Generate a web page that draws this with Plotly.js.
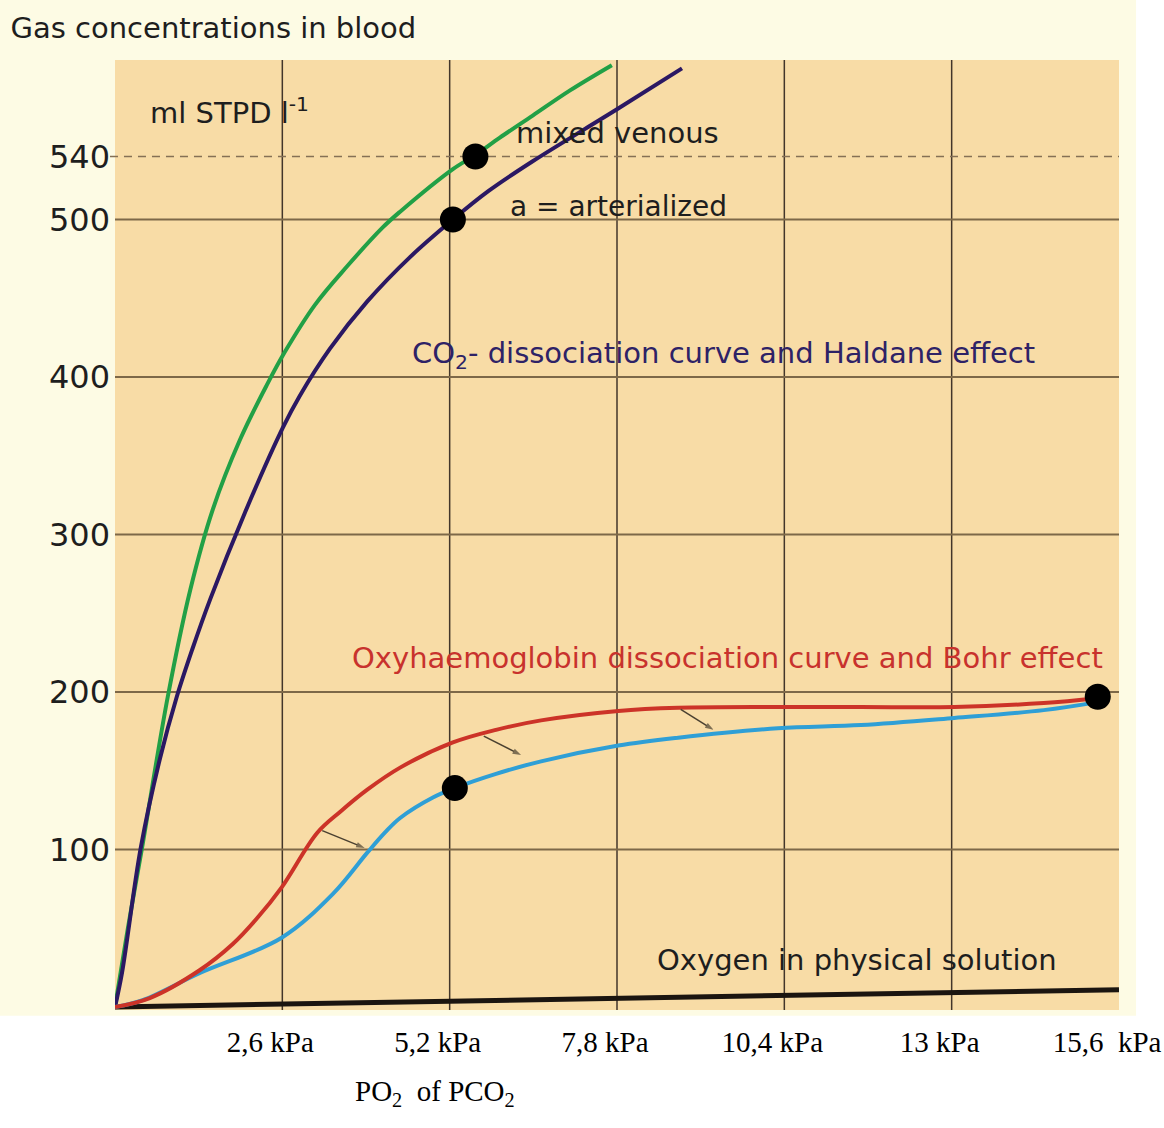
<!DOCTYPE html>
<html><head><meta charset="utf-8">
<script src="https://cdn.plot.ly/plotly-3.0.1.min.js"></script>
<style>html,body{margin:0;padding:0;background:#fff}</style>
</head><body>
<div id="chart" style="width:1164px;height:1128px"></div>
<script>
// ---- tick / grid values ----
const xTickVals = [2.6, 5.2, 7.8, 10.4, 13, 15.6];
const xTickText = ['2,6 kPa', '5,2 kPa', '7,8 kPa', '10,4 kPa', '13 kPa', '15,6  kPa'];
const xGridVals = [2.6, 5.2, 7.8, 10.4, 13];
const yTickVals = [100, 200, 300, 400, 500, 540];
const yGridVals = [100, 200, 300, 400, 500];
const mixedVenousLevel = 540;

// ---- CO2 dissociation, mixed venous (green) ----
const co2VenousX = [0, 0.2, 0.42, 0.82, 1.17, 1.52, 1.94, 2.36, 2.64, 3.11, 3.6, 4.16, 4.43, 5.25, 5.6, 5.98, 6.49, 7.07, 7.72];
const co2VenousY = [0, 50, 101, 197, 265, 316, 360, 395, 416, 446, 470, 495, 505, 532, 541, 552, 566, 582, 598];

// ---- CO2 dissociation, arterialized (purple) ----
const co2ArterialX = [0, 0.11, 0.4, 0.7, 0.96, 1.2, 1.48, 2.02, 2.61, 2.87, 3.34, 3.92, 4.58, 5.25, 5.8, 6.49, 7.8, 8.81];
const co2ArterialY = [0, 22, 101, 158, 197, 227, 259, 314, 368, 388, 418, 448, 476, 500, 518, 537, 570, 596];

// ---- Oxyhaemoglobin dissociation (red) ----
const hbO2X = [0, 0.54, 1.32, 1.83, 2.2, 2.59, 3.14, 3.5, 3.92, 4.43, 5.25, 5.92, 6.62, 7.82, 8.75, 10.3, 11.59, 13.04, 14.43, 15.27];
const hbO2Y = [0, 5.7, 23.5, 40, 56, 76, 110.5, 124, 138, 152, 168, 176, 182, 188, 190, 190.5, 190.5, 190.5, 193, 196];

// ---- Oxyhaemoglobin with Bohr shift (blue) ----
const hbBohrX = [0, 0.43, 1.32, 2.59, 3.39, 3.92, 4.2, 4.43, 4.94, 5.28, 5.92, 6.62, 7.82, 8.75, 10.3, 11.59, 13.04, 14.43, 15.27];
const hbBohrY = [0, 4.4, 21.6, 44, 72, 98, 111, 120, 133, 139, 148, 156, 166, 171, 177, 179, 183.5, 188.5, 193.6];

// ---- Oxygen in physical solution (black) ----
const dissolvedX = [0, 15.6];
const dissolvedY = [0, 11];

// ---- marked points ----
const dotX = [5.6, 5.25, 5.28, 15.27];
const dotY = [540, 500, 139, 197];

// ---- Bohr shift arrows (tail on red curve, head towards blue curve) ----
const arrowTailX = [3.22, 5.73, 8.79];
const arrowTailY = [112, 172, 189];
const arrowHeadX = [3.88, 6.31, 9.3];
const arrowHeadY = [101, 160, 176];

const SANS = 'DejaVu Sans, Arial, sans-serif';
const SERIF = 'Liberation Serif, Times New Roman, serif';

const spline = {shape: 'spline', smoothing: 1, width: 4};
const traces = [
  {x: dissolvedX, y: dissolvedY, mode: 'lines', line: {color: '#1b1510', width: 5}},
  {x: co2VenousX, y: co2VenousY, mode: 'lines', line: Object.assign({color: '#22a046'}, spline)},
  {x: co2ArterialX, y: co2ArterialY, mode: 'lines', line: Object.assign({color: '#2b1863'}, spline)},
  {x: hbBohrX, y: hbBohrY, mode: 'lines', line: Object.assign({color: '#2f9fd6'}, spline)},
  {x: hbO2X, y: hbO2Y, mode: 'lines', line: Object.assign({color: '#cc3328'}, spline)}
];
arrowTailX.forEach((v, i) => traces.push({
  x: [v, arrowHeadX[i]], y: [arrowTailY[i], arrowHeadY[i]], mode: 'lines+markers',
  line: {color: '#4a4030', width: 1.5},
  marker: {symbol: ['circle', 'arrow'], size: [0, 9], angleref: 'previous', color: '#4a4030', line: {width: 0}},
  cliponaxis: false
}));
traces.push({x: dotX, y: dotY, mode: 'markers', marker: {color: '#000', size: 26}, cliponaxis: false});

const shapes = [
  {type: 'rect', xref: 'paper', yref: 'paper', x0: -0.2, x1: 1.2, y0: -0.006, y1: -0.2, fillcolor: '#ffffff', line: {width: 0}, layer: 'below'},
  {type: 'rect', xref: 'paper', yref: 'paper', x0: 1.017, x1: 1.2, y0: -0.2, y1: 1.2, fillcolor: '#ffffff', line: {width: 0}, layer: 'below'}
];
xGridVals.forEach(v => shapes.push({type: 'line', xref: 'x', yref: 'paper', x0: v, x1: v, y0: 0, y1: 1,
  line: {color: '#43362a', width: 1.5}, layer: 'below'}));
yGridVals.forEach(v => shapes.push({type: 'line', xref: 'paper', yref: 'y', x0: 0, x1: 1, y0: v, y1: v,
  line: {color: '#7d6848', width: 2}, layer: 'below'}));
shapes.push({type: 'line', xref: 'paper', yref: 'y', x0: -0.005, x1: 1, y0: mixedVenousLevel, y1: mixedVenousLevel,
  line: {color: '#857055', width: 1.5, dash: '8px,6px'}, layer: 'below'});

const annotations = [
  {text: 'ml STPD l<sup>-1</sup>', x: 0.51, y: 569, xref: 'x', yref: 'y', xanchor: 'left', yanchor: 'middle', showarrow: false,
    font: {family: SANS, size: 29, color: '#1e1e1e'}},
  {text: 'mixed venous', x: 6.2, y: 555, xref: 'x', yref: 'y', xanchor: 'left', yanchor: 'middle', showarrow: false,
    font: {family: SANS, size: 29, color: '#1e1e1e'}},
  {text: 'a = arterialized', x: 6.1, y: 508, xref: 'x', yref: 'y', xanchor: 'left', yanchor: 'middle', showarrow: false,
    font: {family: SANS, size: 28, color: '#1e1e1e'}},
  {text: 'CO<sub>2</sub>- dissociation curve and Haldane effect', x: 4.58, y: 414, xref: 'x', yref: 'y', xanchor: 'left', yanchor: 'middle', showarrow: false,
    font: {family: SANS, size: 29, color: '#2e2266'}},
  {text: 'Oxyhaemoglobin dissociation curve and Bohr effect', x: 3.65, y: 221.5, xref: 'x', yref: 'y', xanchor: 'left', yanchor: 'middle', showarrow: false,
    font: {family: SANS, size: 29, color: '#c8322d'}},
  {text: 'Oxygen in physical solution', x: 8.39, y: 30, xref: 'x', yref: 'y', xanchor: 'left', yanchor: 'middle', showarrow: false,
    font: {family: SANS, size: 29, color: '#1e1e1e'}},
  {text: 'PO<sub>2</sub>  of PCO<sub>2</sub>', x: 0.319, y: -0.087, xref: 'paper', yref: 'paper', xanchor: 'center', yanchor: 'middle', showarrow: false,
    font: {family: SERIF, size: 29, color: '#000'}}
];

const layout = {
  width: 1164, height: 1128,
  margin: {l: 115, r: 45, t: 60, b: 118, pad: 0},
  paper_bgcolor: '#fdfbe4',
  plot_bgcolor: '#f8dca6',
  showlegend: false,
  title: {text: 'Gas concentrations in blood', xref: 'container', yref: 'container', x: 0.009, xanchor: 'left', y: 0.975, yanchor: 'middle',
    font: {family: SANS, size: 29, color: '#1e1e1e'}},
  xaxis: {range: [0, 15.6], tickmode: 'array', tickvals: xTickVals, ticktext: xTickText, showgrid: false, zeroline: false, showline: false,
    ticks: '', ticklabelstandoff: 12, ticklabelshift: -12, tickfont: {family: SERIF, size: 29, color: '#000'}},
  yaxis: {range: [-1.9, 601.3], tickmode: 'array', tickvals: yTickVals, showgrid: false, zeroline: false, showline: false,
    ticks: '', ticklabelstandoff: 4, tickfont: {family: SANS, size: 32, color: '#1e1e1e'}},
  shapes: shapes,
  annotations: annotations
};

Plotly.newPlot('chart', traces, layout, {displayModeBar: false, staticPlot: true});
</script>
</body></html>
